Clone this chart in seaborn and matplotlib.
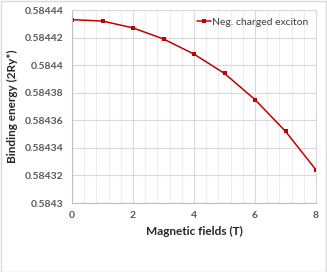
import numpy as np
import pandas as pd
import matplotlib
matplotlib.use("Agg")
import matplotlib.pyplot as plt
import seaborn as sns
from matplotlib.ticker import FuncFormatter, MultipleLocator
from matplotlib.patches import Rectangle

# values
fields = [0, 1, 2, 3, 4, 5, 6, 7, 8]
binding = [0.584433, 0.584432, 0.584427, 0.584419, 0.584408,
           0.584394, 0.584375, 0.584352, 0.584324]
series_name = "Neg. charged exciton"

df = pd.DataFrame({"field": fields, "energy": binding})

sns.set_style("white")
plt.rcParams['font.family'] = ['Lato', 'DejaVu Sans']

fig = plt.figure(figsize=(3.27, 2.72), dpi=100)
ax = fig.add_axes([72 / 327, 1 - 203 / 272, 244 / 327, 193 / 272])

red = "#C00000"
sns.lineplot(data=df, x="field", y="energy", ax=ax, color=red, lw=1.1,
             marker="s", markersize=2.5, markeredgewidth=0, label=series_name)

ax.set_xlim(0, 8)
ax.set_ylim(0.5843, 0.58444)
ax.xaxis.set_major_locator(MultipleLocator(2))
ax.xaxis.set_minor_locator(MultipleLocator(0.4))
ax.yaxis.set_major_locator(MultipleLocator(0.00002))
ax.yaxis.set_major_formatter(FuncFormatter(lambda v, p: f"{v:.5f}".rstrip("0")))

ax.grid(which="major", color="#D9D9D9", lw=0.8)
ax.grid(which="minor", axis="x", color="#EDEDED", lw=0.8)
ax.set_axisbelow(True)
for s in ax.spines.values():
    s.set_color("#D9D9D9")
    s.set_linewidth(0.8)
ax.spines["left"].set_color("#BFBFBF")
ax.spines["bottom"].set_color("#BFBFBF")

ax.tick_params(which="both", length=0, labelsize=7.5, labelcolor="#595959", pad=6)
for lab in ax.get_xticklabels() + ax.get_yticklabels():
    lab.set_fontweight("bold")

ax.set_xlabel("Magnetic fields (T)", fontsize=8.5, fontweight="bold", labelpad=4)
ax.set_ylabel("Binding energy (2Ry*)", fontsize=8.5, fontweight="bold", labelpad=5)

leg = ax.legend(loc="upper right", frameon=False, fontsize=7.5, handlelength=1.4,
                handletextpad=0.1, borderaxespad=0.3)
for t in leg.get_texts():
    t.set_color("#404040")

fig.patches.append(Rectangle((0.5 / 327, 0.5 / 272), 1 - 1.5 / 327, 1 - 1.5 / 272,
                             transform=fig.transFigure, fill=False,
                             edgecolor="#D9D9D9", lw=1))

fig.savefig("out.png", dpi=100)
